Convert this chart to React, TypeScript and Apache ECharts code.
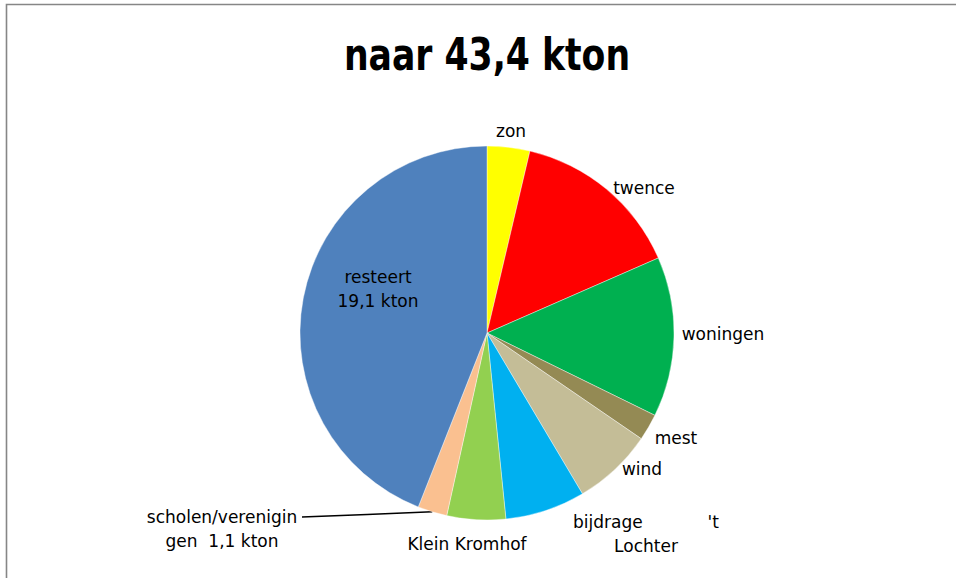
import React, { useEffect, useRef } from "react";
import * as echarts from "echarts";

const categories = [
  "zon",
  "twence",
  "woningen",
  "mest",
  "wind",
  "bijdrage            't\nLochter",
  "Klein Kromhof",
  "scholen/verenigin\ngen  1,1 kton",
  "resteert\n19,1 kton",
];
const values = [1.6, 6.4, 6.0, 1.0, 3.0, 3.0, 2.2, 1.1, 19.1];
const colors = [
  "#FFFF00",
  "#FF0000",
  "#00B050",
  "#948A54",
  "#C4BD97",
  "#00B0F0",
  "#92D050",
  "#FAC090",
  "#4F81BD",
];
const titleText = "naar 43,4 kton";

// label centre positions (layout only)
const labelPos: [number, number][] = [
  [511, 131],
  [644, 188],
  [723, 334],
  [676, 438],
  [642, 469],
  [646, 534],
  [467, 544],
  [222, 529],
  [378, 289],
];
// end of the leader line for "scholen/verenigingen"
const leaderEnd: [number, number] = [302, 517];

export default function App() {
  const ref = useRef<HTMLDivElement>(null);
  useEffect(() => {
    if (!ref.current) return;
    const chart = echarts.init(ref.current, null, { renderer: "svg" });
    const font = "'DejaVu Sans', sans-serif";
    chart.setOption({
      animation: false,
      backgroundColor: "#fff",
      graphic: [
        {
          type: "rect",
          shape: { x: 6.5, y: 4.5, width: 1200, height: 1200 },
          style: { fill: "none", stroke: "#868686", lineWidth: 1.6 },
          silent: true,
        },
        {
          type: "text",
          x: 487,
          y: 32,
          scaleX: 0.77,
          style: {
            text: titleText,
            align: "center",
            verticalAlign: "top",
            font: "bold 45px 'DejaVu Sans', sans-serif",
            fill: "#000",
          },
          silent: true,
        },
      ],
      series: [
        {
          type: "pie",
          center: [487, 333],
          radius: [0, 187],
          startAngle: 90,
          clockwise: true,
          avoidLabelOverlap: false,
          itemStyle: { borderColor: "#fff", borderWidth: 0.4 },
          label: {
            show: true,
            position: "outside",
            formatter: "{b}",
            fontFamily: font,
            fontSize: 17,
            lineHeight: 24,
            color: "#000",
            align: "center",
          },
          labelLine: { show: false },
          labelLayout: (p: any) => {
            const pos = labelPos[p.dataIndex];
            const out: any = {
              x: pos[0],
              y: pos[1],
              align: "center",
              verticalAlign: "middle",
            };
            if (p.dataIndex === 7 && p.labelLinePoints && p.labelLinePoints[0]) {
              const s = p.labelLinePoints[0];
              out.labelLinePoints = [
                [s[0], s[1]],
                [(s[0] + leaderEnd[0]) / 2, (s[1] + leaderEnd[1]) / 2],
                leaderEnd,
              ];
            }
            return out;
          },
          data: categories.map((name, i) => ({
            name,
            value: values[i],
            itemStyle: { color: colors[i] },
            labelLine:
              i === 7
                ? { show: true, length: 10, length2: 10, lineStyle: { color: "#000", width: 1.5 } }
                : { show: false },
          })),
        },
      ],
    });
    return () => chart.dispose();
  }, []);
  return (
    <div
      ref={ref}
      style={{ position: "fixed", left: 0, top: 0, width: 956, height: 578 }}
    />
  );
}
